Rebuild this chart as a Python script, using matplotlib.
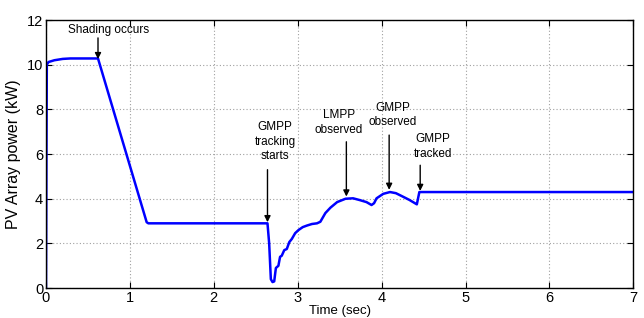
# -*- coding: utf-8 -*-
""" PV array power under partial shading
"""

import matplotlib.pyplot as plt

# Trace
time_sec = [0.0, 0.002, 0.006, 0.01, 0.03, 0.1, 0.2, 0.29, 0.45, 0.62,
            1.2, 1.22, 2.64, 2.66, 2.68, 2.70, 2.72, 2.74, 2.77, 2.79,
            2.81, 2.84, 2.87, 2.9, 2.93, 2.97, 3.01, 3.06, 3.11, 3.17,
            3.23, 3.27, 3.33, 3.39, 3.47, 3.57, 3.66, 3.74, 3.82, 3.88,
            3.91, 3.94, 4.02, 4.10, 4.17, 4.24, 4.33, 4.42, 4.45, 5.5, 7.0]
power_kw = [0.0, 2.0, 6.5, 10.0, 10.12, 10.2, 10.26, 10.28, 10.28, 10.28,
            2.95, 2.9, 2.9, 2.0, 0.4, 0.27, 0.3, 0.9, 1.0, 1.4,
            1.45, 1.7, 1.75, 2.06, 2.2, 2.46, 2.6, 2.73, 2.8, 2.87,
            2.9, 2.97, 3.36, 3.6, 3.85, 4.0, 4.02, 3.94, 3.85, 3.72,
            3.8, 4.02, 4.22, 4.3, 4.25, 4.12, 3.95, 3.75, 4.3, 4.3, 4.3]

# Annotations: (label, text x, text y, arrow start y, arrow x, arrow tip y)
annotations = [
    ("Shading occurs", 0.75, 11.55, 11.2, 0.62, 10.25),
    ("GMPP\ntracking\nstarts", 2.73, 6.55, 5.3, 2.64, 2.95),
    ("LMPP\nobserved", 3.49, 7.42, 6.55, 3.58, 4.1),
    ("GMPP\nobserved", 4.13, 7.75, 6.85, 4.09, 4.4),
    ("GMPP\ntracked", 4.61, 6.35, 5.5, 4.46, 4.35),
]

fig = plt.figure(figsize=(6.44, 3.18), dpi=100)
ax = fig.add_axes([0.0714, 0.094, 0.912, 0.843])

ax.plot(time_sec, power_kw, color="#0000ff", lw=1.8)

for label, tx, ty, sy, ax_x, tip_y in annotations:
    ax.text(tx, ty, label, ha="center", va="center", fontsize=8.5,
            family="Liberation Sans", linespacing=1.3)
    ax.annotate("", xy=(ax_x, tip_y), xytext=(ax_x, sy),
                arrowprops=dict(arrowstyle="-|>", color="k", lw=1,
                                mutation_scale=9, shrinkA=0, shrinkB=0))

ax.set_xlim(0, 7)
ax.set_ylim(0, 12)
ax.set_xticks(range(0, 8))
ax.set_yticks(range(0, 13, 2))
ax.grid(True, color="#a0a0a0", linestyle=(0, (1, 2)), lw=0.8)
ax.tick_params(direction="in", top=True, right=True, length=4, pad=2,
               labelsize=10.5)
for lab in ax.get_xticklabels() + ax.get_yticklabels():
    lab.set_family("Liberation Sans")

ax.set_xlabel("Time (sec)", fontsize=9.5, family="Liberation Sans",
              labelpad=0)
ax.set_ylabel("PV Array power (kW)", fontsize=11.5, family="Liberation Sans",
              labelpad=4)

for spine in ax.spines.values():
    spine.set_linewidth(1.0)

plt.savefig("out.png", dpi=100)
